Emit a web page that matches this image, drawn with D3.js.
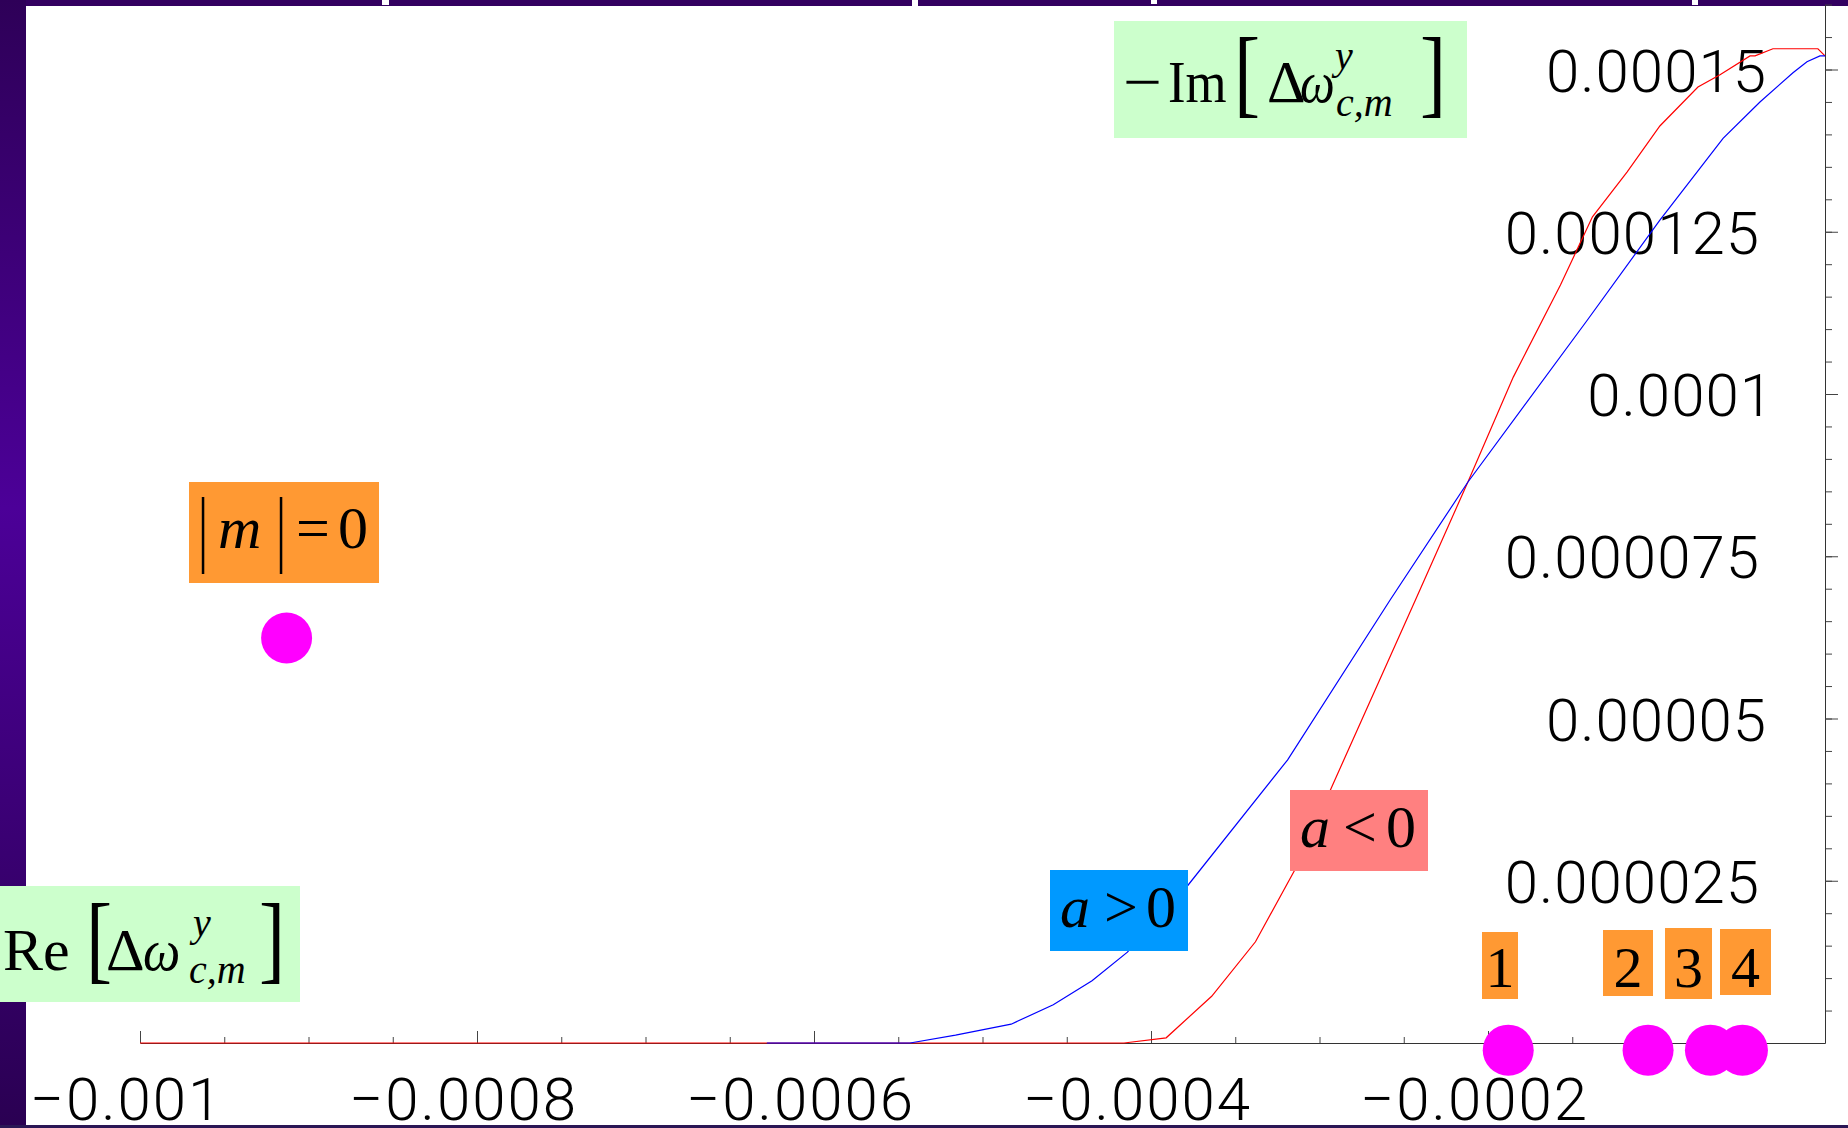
<!DOCTYPE html>
<html><head><meta charset="utf-8">
<script src="https://cdn.jsdelivr.net/npm/d3@7"></script>
<style>html,body{margin:0;padding:0;background:#fff;overflow:hidden}</style>
</head><body>
<svg id="chart" width="1848" height="1128"></svg>
<script>
// ---------- data ----------
const blueX = [-0.000628, -0.000543, -0.000516, -0.000483, -0.000458, -0.000435, -0.000414, -0.000379, -0.000319, -0.000258, -0.000212, -0.000141, -0.000098, -0.0000605, -0.0000386, -0.000019, -0.0000107, -0.000003, 0];
const blueY = [0, 0, 0.0000012, 0.0000029, 0.0000059, 0.0000096, 0.000014, 0.000024, 0.0000436, 0.0000683, 0.0000864, 0.0001114, 0.0001268, 0.0001394, 0.000145, 0.0001495, 0.0001512, 0.0001521, 0.0001521];
const redX = [-0.001, -0.000416, -0.000391, -0.000364, -0.000338, -0.000315, -0.000293, -0.000243, -0.000212, -0.000185, -0.000157, -0.000138, -0.0001175, -0.000098, -0.0000754, -0.0000623, -0.0000445, -0.0000415, -0.0000309, -0.0000042, 0];
const redY = [0, 0, 0.0000008, 0.0000072, 0.0000156, 0.0000265, 0.0000393, 0.0000683, 0.0000864, 0.0001026, 0.0001168, 0.0001273, 0.0001342, 0.0001413, 0.0001473, 0.0001492, 0.0001521, 0.0001521, 0.0001532, 0.0001532, 0.0001521];
const modeX = [-0.000913, -0.000188, -0.000105, -0.000068, -0.000049];
const modeY = [0.0000624, -0.0000011, -0.0000011, -0.0000011, -0.0000011];
const modeLabels = ["|m|=0", "1", "2", "3", "4"];
const xTickValues = [-0.001, -0.0008, -0.0006, -0.0004, -0.0002];
const xTickLabels = ["\u22120.001", "\u22120.0008", "\u22120.0006", "\u22120.0004", "\u22120.0002"];
const yTickValues = [0.000025, 0.00005, 0.000075, 0.0001, 0.000125, 0.00015];
const yTickLabels = ["0.000025", "0.00005", "0.000075", "0.0001", "0.000125", "0.00015"];
const seriesNames = ["a > 0", "a < 0"];

// ---------- setup ----------
const svg = d3.select("#chart");
const W = 1848, H = 1128;
const x = d3.scaleLinear().domain([-0.001, 0]).range([140, 1825]);
const y = d3.scaleLinear().domain([0, 0.00016]).range([1043, 4.6]);
const serif = "'Liberation Serif','Times New Roman',serif";
const sans = "Roboto,'Liberation Sans',Arial,sans-serif";

// background frame
const defs = svg.append("defs");
const grad = defs.append("linearGradient").attr("id", "side").attr("x1", 0).attr("y1", 0).attr("x2", 0).attr("y2", 1);
grad.append("stop").attr("offset", "0%").attr("stop-color", "#2e0058");
grad.append("stop").attr("offset", "45%").attr("stop-color", "#4c0098");
grad.append("stop").attr("offset", "100%").attr("stop-color", "#2a0052");
svg.append("rect").attr("width", W).attr("height", H).attr("fill", "#fff");
svg.append("rect").attr("x", 0).attr("y", 0).attr("width", W).attr("height", 6).attr("fill", "#330060");
svg.append("rect").attr("x", 0).attr("y", 0).attr("width", 26).attr("height", H).attr("fill", "url(#side)");
svg.append("rect").attr("x", 0).attr("y", 1125).attr("width", W).attr("height", 3).attr("fill", "#2a1655");
// cropped title fragments
[[382, 0, 7, 5], [1151, 0, 6, 4], [912, 0, 6, 6], [1692, 0, 6, 5]].forEach(r =>
  svg.append("rect").attr("x", r[0]).attr("y", r[1]).attr("width", r[2]).attr("height", r[3]).attr("fill", "#fff"));

// ---------- axes ----------
const minorX = d3.range(0, 20).map(i => -0.001 + i * 0.00005);
const gxMinor = svg.append("g").attr("transform", "translate(0,1043)")
  .call(d3.axisBottom(x).tickValues(minorX).tickSize(-6).tickFormat(""));
gxMinor.select(".domain").remove();
const gx = svg.append("g").attr("transform", "translate(0,1043)")
  .call(d3.axisBottom(x).tickValues(xTickValues).tickSizeInner(-12).tickSizeOuter(0)
    .tickFormat((d, i) => xTickLabels[i]));
gx.selectAll("text").attr("y", 77).attr("dy", 0).attr("dx", -14)
  .attr("font-family", sans).attr("font-weight", 300).attr("font-size", 60)
  .attr("letter-spacing", 2).attr("fill", "#000");
[gx, gxMinor].forEach(g => { g.selectAll("line").attr("stroke", "#444"); });
gx.select(".domain").attr("stroke", "#333");

const minorY = d3.range(1, 33).map(i => i * 0.000005);
const gyMinor = svg.append("g").attr("transform", "translate(1825,0)")
  .call(d3.axisRight(y).tickValues(minorY).tickSize(7).tickFormat(""));
gyMinor.select(".domain").remove();
const gy = svg.append("g").attr("transform", "translate(1825,0)")
  .call(d3.axisRight(y).tickValues(yTickValues).tickSizeInner(13).tickSizeOuter(0)
    .tickFormat((d, i) => yTickLabels[i]));
gy.selectAll("text").attr("x", (d, i) => -58 - 7 * (yTickLabels[i].length - 7))
  .attr("dy", "0.36em").attr("text-anchor", "end")
  .attr("font-family", sans).attr("font-weight", 300).attr("font-size", 60)
  .attr("letter-spacing", 1).attr("fill", "#000");
[gy, gyMinor].forEach(g => { g.selectAll("line").attr("stroke", "#444"); });
gy.select(".domain").attr("stroke", "#333");

// ---------- curves ----------
const line = d3.line().x(d => x(d[0])).y(d => y(d[1]));
svg.append("path").datum(redX.map((v, i) => [v, redY[i]]))
  .attr("d", line).attr("fill", "none").attr("stroke", "#ff0000").attr("stroke-width", 1.2);
svg.append("path").datum(blueX.map((v, i) => [v, blueY[i]]))
  .attr("d", line).attr("fill", "none").attr("stroke", "#0000ff").attr("stroke-width", 1.2);

// ---------- mode dots ----------
svg.selectAll("circle.mode").data(modeX).enter().append("circle").attr("class", "mode")
  .attr("cx", d => x(d)).attr("cy", (d, i) => y(modeY[i])).attr("r", 25.5).attr("fill", "#ff00ff");

// ---------- annotations ----------
function txt(s, px, py, size, opts = {}) {
  const sx = opts.sx || 1;
  return svg.append("text").attr("transform", `translate(${px},${py}) scale(${sx},1)`)
    .attr("font-family", serif)
    .attr("font-size", size).attr("font-style", opts.italic ? "italic" : "normal")
    .attr("text-anchor", opts.anchor || "start").attr("fill", "#000").text(s);
}
function box(x0, y0, w, h, c) {
  svg.append("rect").attr("x", x0).attr("y", y0).attr("width", w).attr("height", h).attr("fill", c);
}
// -Im[...] label
box(1114, 21, 353, 117, "#ccffcc");
txt("\u2212", 1123, 102, 60, {sx: 1.15});
txt("Im", 1168, 102, 60, {sx: 0.88});
txt("[", 1234, 105, 98, {sx: 0.8});
txt("\u0394", 1267, 102, 60);
txt("\u03c9", 1300, 102, 60, {italic: true, sx: 0.82});
txt("y", 1335, 69, 40, {italic: true});
txt("c,m", 1336, 116, 40, {italic: true});
txt("]", 1420, 105, 98, {sx: 0.8});
// Re[...] label
box(0, 886, 300, 116, "#ccffcc");
txt("Re", 3, 970, 60);
txt("[", 86, 971, 98, {sx: 0.8});
txt("\u0394", 106, 970, 60);
txt("\u03c9", 143, 970, 60, {italic: true, sx: 0.88});
txt("y", 193, 936, 40, {italic: true});
txt("c,m", 189, 983, 40, {italic: true});
txt("]", 259, 971, 98, {sx: 0.8});
// |m| = 0
box(189, 482, 190, 101, "#ff9933");
txt("|", 198, 556, 84, {sx: 0.6});
txt("m", 218, 548, 60, {italic: true});
txt("|", 276, 556, 84, {sx: 0.6});
txt("=", 296, 548, 60);
txt("0", 338, 548, 60);
// series labels
box(1050, 870, 138, 81, "#0099ff");
txt("a", 1060, 927, 60, {italic: true});
txt(">", 1104, 927, 60);
txt("0", 1146, 927, 60);
box(1290, 790, 138, 81, "#ff8080");
txt("a", 1300, 847, 60, {italic: true});
txt("<", 1343, 847, 60);
txt("0", 1386, 847, 60);
// mode number labels
const numBoxes = [[1482, 932, 36, 67], [1603, 930, 50, 66], [1665, 928, 47, 71], [1720, 929, 51, 66]];
numBoxes.forEach((b, i) => {
  box(b[0], b[1], b[2], b[3], "#ff9933");
  txt(modeLabels[i + 1], b[0] + b[2] / 2, 987, 58, {anchor: "middle"});
});
</script>
</body></html>
